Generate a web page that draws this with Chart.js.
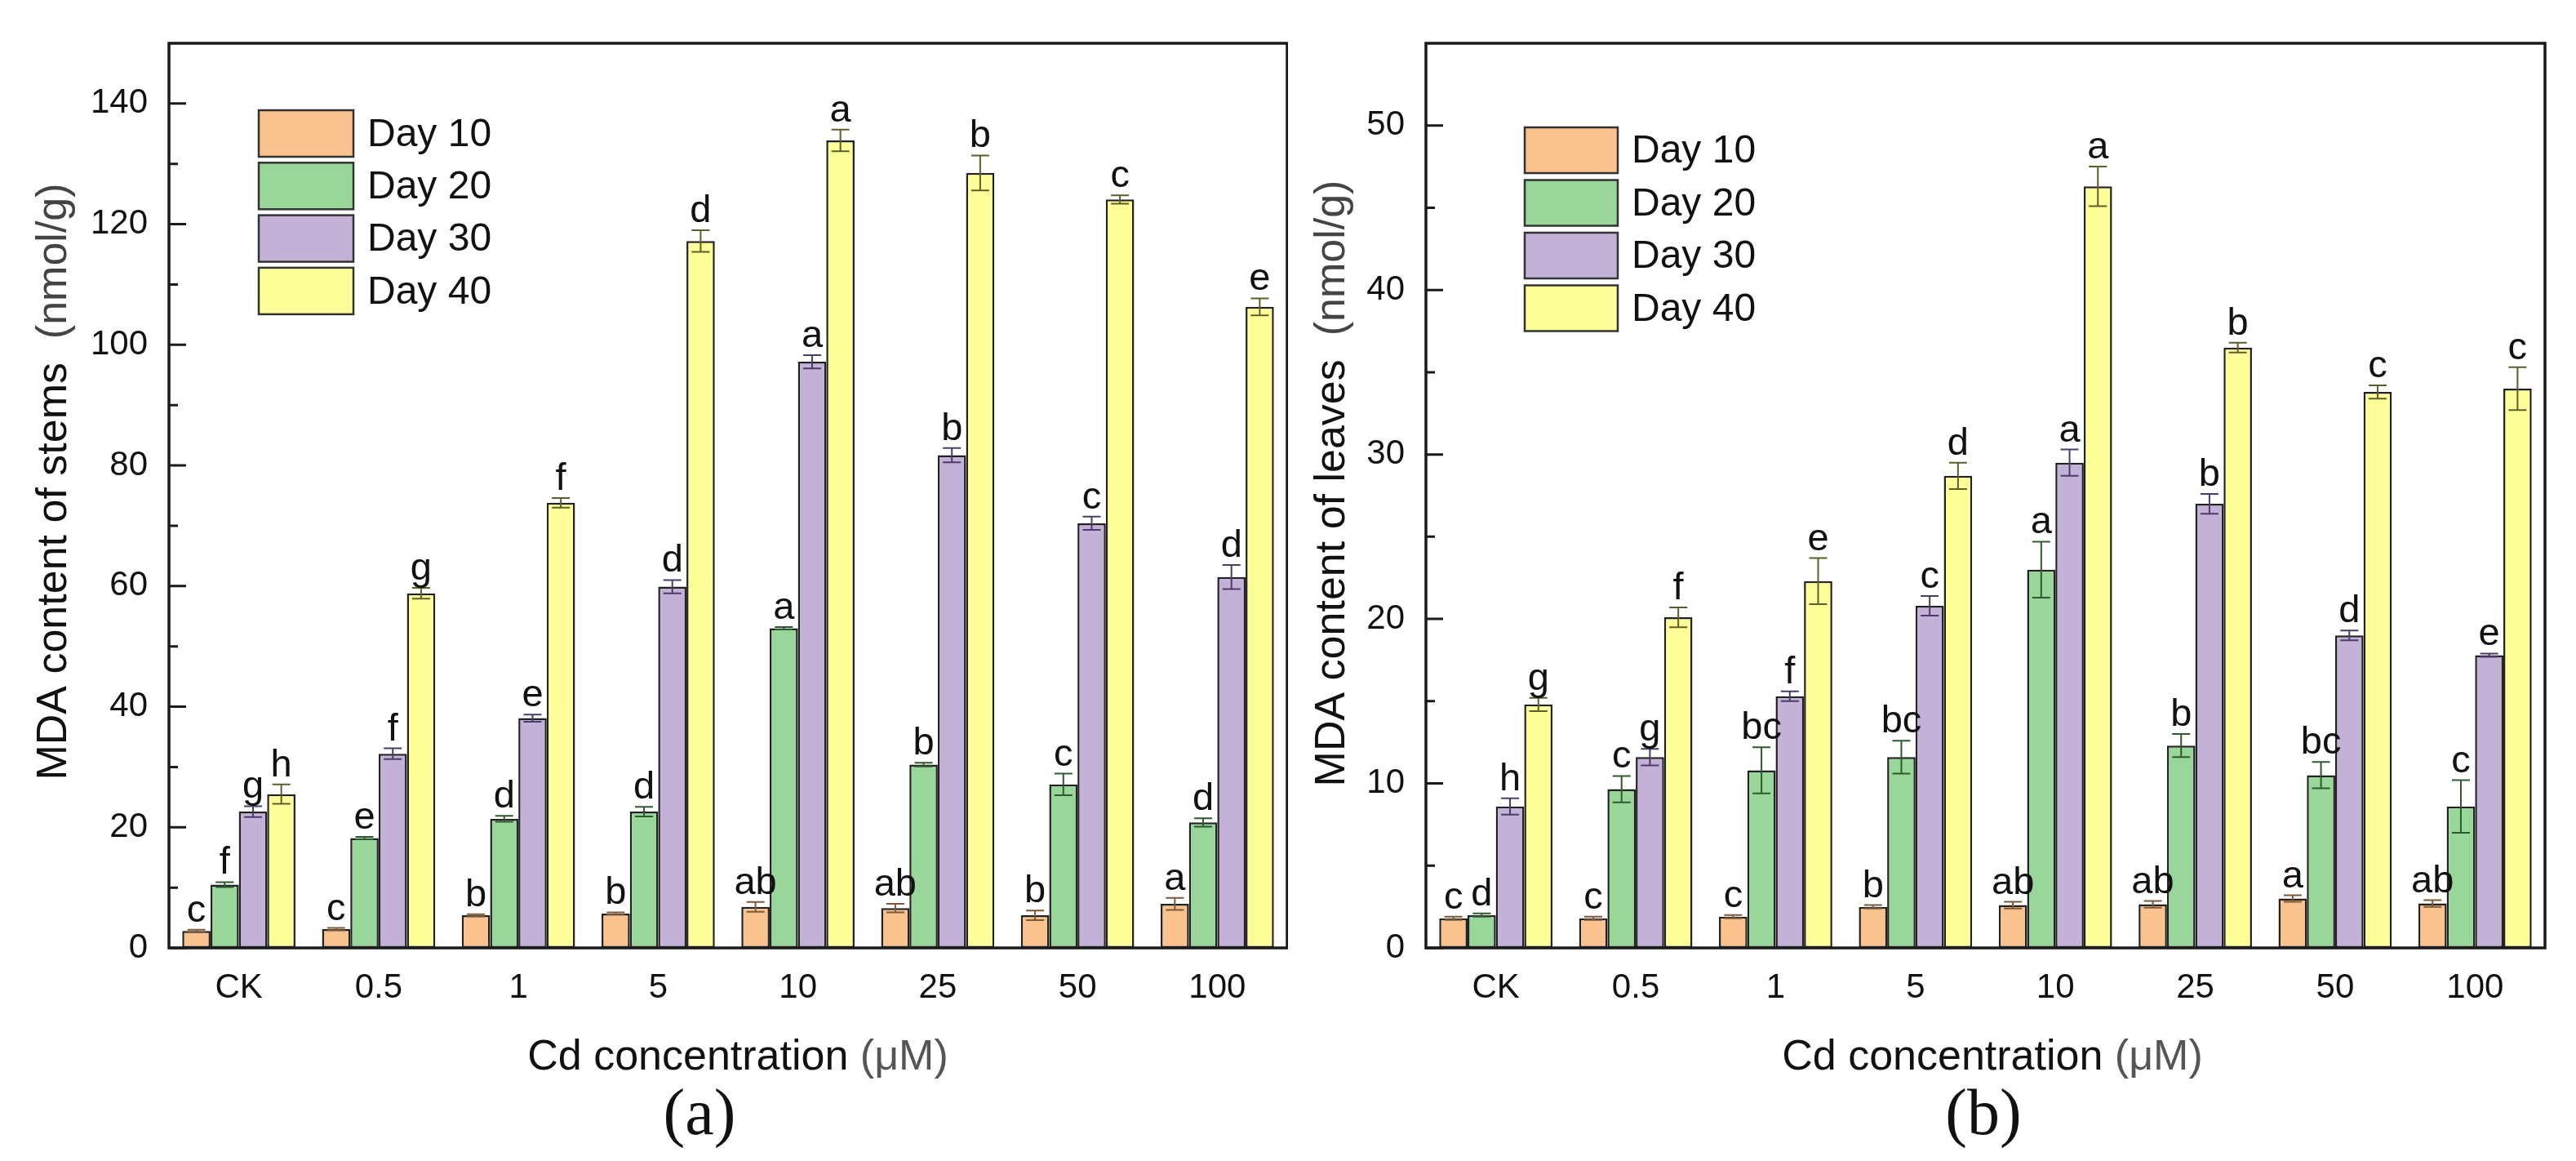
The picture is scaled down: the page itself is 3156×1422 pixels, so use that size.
<!DOCTYPE html>
<html>
<head>
<meta charset="utf-8">
<script src="https://cdn.jsdelivr.net/npm/chart.js@4.4.1/dist/chart.umd.min.js"></script>
<style>
  html, body { margin: 0; padding: 0; background: #fff; }
  .panel { position: absolute; top: 0; width: 1578px; height: 1422px; }
</style>
</head>
<body>
<div class="panel" style="left:0"><canvas id="stems"></canvas></div>
<div class="panel" style="left:1578px"><canvas id="leaves"></canvas></div>
<script>
const categories = ['CK', '0.5', '1', '5', '10', '25', '50', '100'];
const seriesNames = ['Day 10', 'Day 20', 'Day 30', 'Day 40'];
const seriesColors = ['#FAC28E', '#99D699', '#C3B1D8', '#FFFF99'];
const errColors = ['#7a5a3a', '#2f5a2f', '#4a3c6a', '#5e5e2a'];

// (a) stems
const stems10 = [2.8, 3.1, 5.4, 5.7, 6.8, 6.6, 5.4, 7.3];
const stems20 = [10.5, 18.2, 21.4, 22.6, 53.0, 30.4, 27.1, 20.8];
const stems30 = [22.6, 32.2, 38.1, 59.9, 97.2, 81.7, 70.4, 61.5];
const stems40 = [25.5, 58.8, 73.8, 117.2, 133.9, 128.5, 124.1, 106.3];
const stemsErr10 = [0.2, 0.2, 0.2, 0.2, 0.8, 0.7, 0.8, 1.0];
const stemsErr20 = [0.4, 0.2, 0.5, 0.8, 0.2, 0.3, 1.8, 0.7];
const stemsErr30 = [0.9, 0.9, 0.6, 1.1, 1.1, 1.2, 1.1, 2.0];
const stemsErr40 = [1.6, 0.9, 0.8, 1.8, 1.8, 2.9, 0.7, 1.4];
const stemsLetters10 = ['c', 'c', 'b', 'b', 'ab', 'ab', 'b', 'a'];
const stemsLetters20 = ['f', 'e', 'd', 'd', 'a', 'b', 'c', 'd'];
const stemsLetters30 = ['g', 'f', 'e', 'd', 'a', 'b', 'c', 'd'];
const stemsLetters40 = ['h', 'g', 'f', 'd', 'a', 'b', 'c', 'e'];

// (b) leaves
const leaves10 = [1.8, 1.8, 1.9, 2.5, 2.6, 2.65, 3.0, 2.7];
const leaves20 = [2.0, 9.65, 10.8, 11.6, 23.0, 12.3, 10.5, 8.6];
const leaves30 = [8.6, 11.6, 15.3, 20.8, 29.5, 27.0, 19.0, 17.8];
const leaves40 = [14.8, 20.1, 22.3, 28.7, 46.3, 36.5, 33.8, 34.0];
const leavesErr10 = [0.1, 0.1, 0.1, 0.1, 0.2, 0.2, 0.2, 0.2];
const leavesErr20 = [0.1, 0.8, 1.4, 1.0, 1.7, 0.7, 0.8, 1.6];
const leavesErr30 = [0.5, 0.5, 0.3, 0.6, 0.8, 0.6, 0.3, 0.1];
const leavesErr40 = [0.4, 0.6, 1.4, 0.8, 1.2, 0.3, 0.4, 1.3];
const leavesLetters10 = ['c', 'c', 'c', 'b', 'ab', 'ab', 'a', 'ab'];
const leavesLetters20 = ['d', 'c', 'bc', 'bc', 'a', 'b', 'bc', 'c'];
const leavesLetters30 = ['h', 'g', 'f', 'c', 'a', 'b', 'd', 'e'];
const leavesLetters40 = ['g', 'f', 'e', 'd', 'a', 'b', 'c', 'c'];

const SANS = "'Liberation Sans', Arial, sans-serif";
const NARROW = "'Liberation Sans Narrow', 'Arial Narrow', 'Liberation Sans', sans-serif";
Chart.defaults.font.family = SANS;
Chart.defaults.color = '#111';

// draws two-part text (dark main part, grey unit part) centred on x
function twoTone(ctx, parts, x, y) {
    const widths = parts.map(p => ctx.measureText(p[0]).width);
    let cx = x - widths.reduce((a, b) => a + b, 0) / 2;
    parts.forEach((p, i) => {
        ctx.fillStyle = p[1];
        ctx.fillText(p[0], cx, y);
        cx += widths[i];
    });
}

const decor = {
    id: 'decor',
    afterDatasetsDraw(chart, args, o) {
        const ctx = chart.ctx, area = chart.chartArea, ys = chart.scales.y;
        ctx.save();

        // error bars and significance letters
        chart.data.datasets.forEach((ds, i) => {
            chart.getDatasetMeta(i).data.forEach((bar, j) => {
                const v = ds.data[j], e = o.errors[i][j];
                const top = ys.getPixelForValue(v + e), bot = ys.getPixelForValue(v - e);
                ctx.strokeStyle = errColors[i];
                ctx.lineWidth = 2;
                ctx.beginPath();
                ctx.moveTo(bar.x, top); ctx.lineTo(bar.x, bot);
                ctx.moveTo(bar.x - 11, top); ctx.lineTo(bar.x + 11, top);
                ctx.moveTo(bar.x - 11, bot); ctx.lineTo(bar.x + 11, bot);
                ctx.stroke();
                ctx.fillStyle = '#111';
                ctx.font = '47px ' + NARROW;
                ctx.textAlign = 'center';
                ctx.textBaseline = 'alphabetic';
                ctx.fillText(o.letters[i][j], bar.x, top - 10);
            });
        });

        // frame
        ctx.strokeStyle = '#1a1a1a';
        ctx.lineWidth = 3.5;
        ctx.strokeRect(area.left, area.top, area.right - area.left, area.bottom - area.top);

        // inner ticks, major and minor
        const step = ys.ticks[1].value - ys.ticks[0].value;
        ctx.lineWidth = 3;
        ctx.beginPath();
        ys.ticks.forEach(t => {
            const py = ys.getPixelForValue(t.value);
            ctx.moveTo(area.left, py); ctx.lineTo(area.left + 21, py);
        });
        for (let v = step / 2; v < ys.max; v += step) {
            const py = ys.getPixelForValue(v);
            ctx.moveTo(area.left, py); ctx.lineTo(area.left + 11, py);
        }
        ctx.stroke();

        // legend
        const L = o.legend;
        chart.data.datasets.forEach((ds, i) => {
            const by = L.y + i * L.pitch;
            ctx.fillStyle = ds.backgroundColor;
            ctx.fillRect(L.x, by, L.w, L.h);
            ctx.strokeStyle = '#333';
            ctx.lineWidth = 2.5;
            ctx.strokeRect(L.x, by, L.w, L.h);
            ctx.fillStyle = '#111';
            ctx.font = '48px ' + SANS;
            ctx.textAlign = 'left';
            ctx.textBaseline = 'middle';
            ctx.fillText(ds.label, L.textX, by + L.h / 2 + 2);
        });

        // axis titles
        ctx.font = '52px ' + SANS;
        ctx.textAlign = 'left';
        ctx.textBaseline = 'middle';
        ctx.save();
        ctx.translate(o.yTitle.x, o.yTitle.y);
        ctx.rotate(-Math.PI / 2);
        twoTone(ctx, [[o.yTitle.text, '#111'], ['  (nmol/g)', '#444']], 0, 0);
        ctx.restore();
        twoTone(ctx, [['Cd concentration ', '#111'], ['(\u03bcM)', '#555']], o.xTitle.x, o.xTitle.y);

        // panel label
        ctx.font = '80px "Liberation Serif", "Times New Roman", serif';
        ctx.textAlign = 'center';
        ctx.fillStyle = '#111';
        ctx.fillText(o.panel.text, o.panel.x, o.panel.y);
        ctx.restore();
    }
};

function makeChart(id, series, errors, letters, yMax, yStep, axisLeft, padRight, extra) {
    return new Chart(document.getElementById(id), {
        type: 'bar',
        data: {
            labels: categories,
            datasets: series.map((s, i) => ({
                label: seriesNames[i],
                data: s,
                backgroundColor: seriesColors[i],
                borderColor: '#222',
                borderWidth: 2.5,
                borderSkipped: false,
                categoryPercentage: 0.81,
                barPercentage: 1.0
            }))
        },
        options: {
            responsive: true,
            maintainAspectRatio: false,
            animation: false,
            layout: { padding: { top: 53, right: padRight, left: 0, bottom: 0 } },
            plugins: {
                legend: { display: false },
                tooltip: { enabled: false },
                decor: Object.assign({ errors: errors, letters: letters }, extra)
            },
            scales: {
                x: {
                    grid: { display: false, drawTicks: false },
                    border: { display: false },
                    ticks: { font: { size: 42 }, color: '#111', padding: 24 },
                    afterFit(s) { s.height = 1422 - 1161; }
                },
                y: {
                    min: 0,
                    max: yMax,
                    grid: { display: false, drawTicks: false },
                    border: { display: false },
                    ticks: { stepSize: yStep, includeBounds: false, font: { size: 42 }, color: '#111', padding: 26 },
                    afterFit(s) { s.width = axisLeft; }
                }
            }
        },
        plugins: [decor]
    });
}

makeChart('stems',
    [stems10, stems20, stems30, stems40],
    [stemsErr10, stemsErr20, stemsErr30, stemsErr40],
    [stemsLetters10, stemsLetters20, stemsLetters30, stemsLetters40],
    150, 20, 207, 1578 - 1577,
    {
        legend: { x: 317, y: 135, w: 116, h: 57, pitch: 64.3, textX: 450 },
        yTitle: { text: 'MDA content of stems', x: 67, y: 590 },
        xTitle: { x: 904, y: 1296 },
        panel: { text: '(a)', x: 857, y: 1368 }
    });

makeChart('leaves',
    [leaves10, leaves20, leaves30, leaves40],
    [leavesErr10, leavesErr20, leavesErr30, leavesErr40],
    [leavesLetters10, leavesLetters20, leavesLetters30, leavesLetters40],
    55, 10, 169, 1578 - 1540,
    {
        legend: { x: 290, y: 156, w: 114, h: 56, pitch: 64.5, textX: 421 },
        yTitle: { text: 'MDA content of leaves', x: 55, y: 592 },
        xTitle: { x: 863, y: 1296 },
        panel: { text: '(b)', x: 852, y: 1368 }
    });
</script>
</body>
</html>
